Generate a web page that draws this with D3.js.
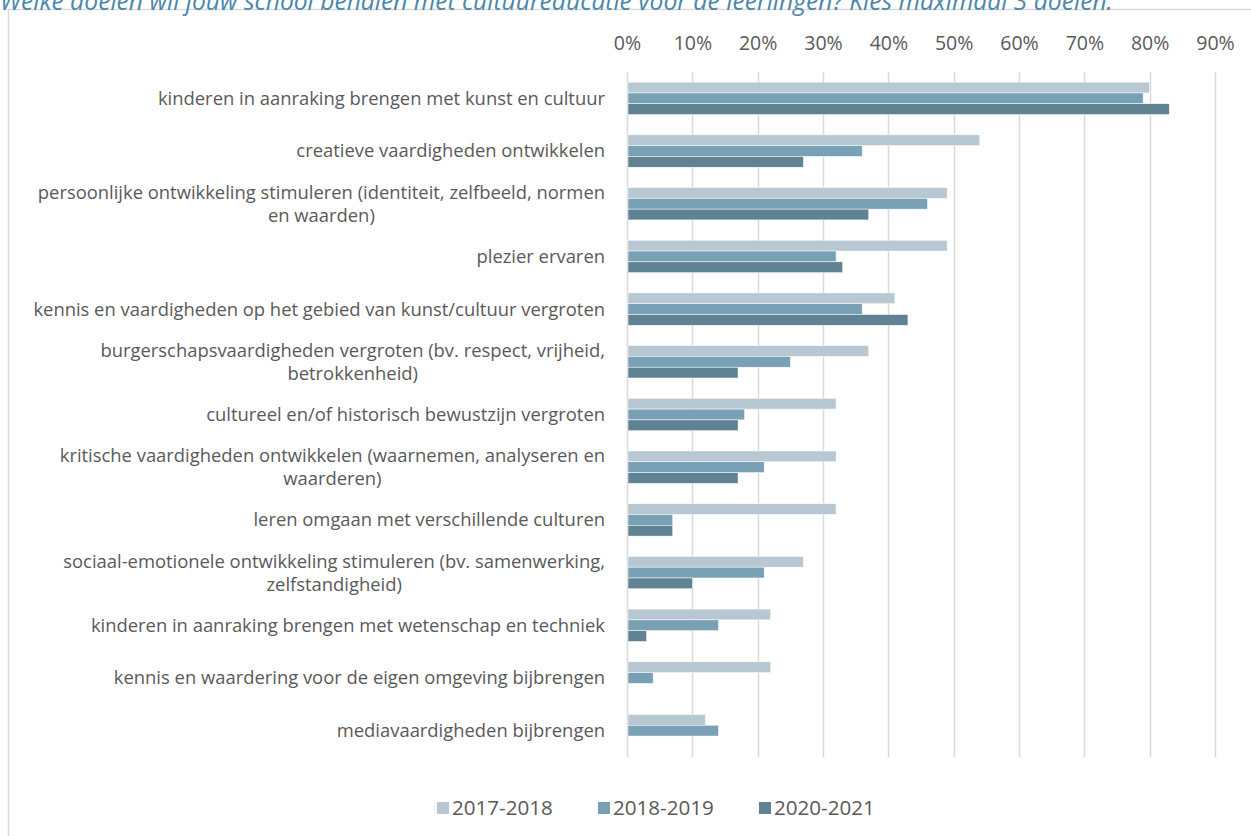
<!DOCTYPE html>
<html><head><meta charset="utf-8">
<script src="https://cdn.jsdelivr.net/npm/d3@7"></script>
<style>
html,body{margin:0;padding:0;background:#fff;overflow:hidden}
svg{display:block;font-family:"Open Sans",sans-serif}
</style></head>
<body><svg id="c" width="1251" height="836"></svg>
<script>
const title = "Welke doelen wil jouw school behalen met cultuureducatie voor de leerlingen? Kies maximaal 3 doelen.";
const categories = [
  "kinderen in aanraking brengen met kunst en cultuur",
  "creatieve vaardigheden ontwikkelen",
  "persoonlijke ontwikkeling stimuleren (identiteit, zelfbeeld, normen\nen waarden)",
  "plezier ervaren",
  "kennis en vaardigheden op het gebied van kunst/cultuur vergroten",
  "burgerschapsvaardigheden vergroten (bv. respect, vrijheid,\nbetrokkenheid)",
  "cultureel en/of historisch bewustzijn vergroten",
  "kritische vaardigheden ontwikkelen (waarnemen, analyseren en\nwaarderen)",
  "leren omgaan met verschillende culturen",
  "sociaal-emotionele ontwikkeling stimuleren (bv. samenwerking,\nzelfstandigheid)",
  "kinderen in aanraking brengen met wetenschap en techniek",
  "kennis en waardering voor de eigen omgeving bijbrengen",
  "mediavaardigheden bijbrengen"
];
const seriesNames = ["2017-2018", "2018-2019", "2020-2021"];
const s2017 = [80, 54, 49, 49, 41, 37, 32, 32, 32, 27, 22, 22, 12];
const s2018 = [79, 36, 46, 32, 36, 25, 18, 21, 7, 21, 14, 4, 14];
const s2020 = [83, 27, 37, 33, 43, 17, 17, 17, 7, 10, 3, 0, 0];
const tickValues = [0, 10, 20, 30, 40, 50, 60, 70, 80, 90];
const colors = ["#b7c8d2", "#78a1b6", "#608394"];

const series = [s2017, s2018, s2020];
const svg = d3.select("#c");

// frame
svg.append("rect").attr("x", 8.5).attr("y", 9.5).attr("width", 1260).attr("height", 840)
  .attr("fill", "none").attr("stroke", "#d9d9d9").attr("stroke-width", 1.5);

// title (cut at top in the original)
svg.append("text").attr("x", 0).attr("y", 9.5).attr("font-style", "italic")
  .attr("font-size", 24.6).attr("fill", "#4b87ab").text(title);

const x = d3.scaleLinear().domain([0, 90]).range([627, 1215]);
const y = d3.scaleBand().domain(d3.range(categories.length)).range([72, 757]).paddingInner(0).paddingOuter(0);
const inner = d3.scaleBand().domain(d3.range(3)).range([0, 32.4]);
const offset = (y.bandwidth() - 32.4) / 2;

// gridlines
svg.append("g").selectAll("line").data(tickValues).join("line")
  .attr("x1", d => Math.round(x(d)) + 0.5).attr("x2", d => Math.round(x(d)) + 0.5)
  .attr("y1", 72).attr("y2", 757).attr("stroke", "#d9d9d9").attr("stroke-width", 1.5);

// top axis
const axis = d3.axisTop(x).tickValues(tickValues).tickFormat(d => d + "%").tickSize(0).tickPadding(0);
const ag = svg.append("g").attr("transform", "translate(0,50)").call(axis);
ag.select(".domain").remove();
ag.selectAll("text").attr("font-size", 19.5).attr("fill", "#595959").attr("font-family", "Open Sans");

// bars
series.forEach((s, si) => {
  svg.append("g").selectAll("rect").data(s).join("rect")
    .attr("x", x(0) + 1)
    .attr("y", (d, i) => y(i) + offset + inner(si))
    .attr("width", d => Math.max(0, x(d) - x(0) - 1))
    .attr("height", inner.bandwidth())
    .attr("fill", colors[si])
    .attr("stroke", "#fff").attr("stroke-width", 0.5);
});

// category labels
const lg = svg.append("g");
categories.forEach((c, i) => {
  const lines = c.split("\n");
  const cy = y(i) + y.bandwidth() / 2;
  const lh = 23;
  const t = lg.append("text").attr("font-size", 18.4).attr("fill", "#595959");
  const spans = lines.map((ln, k) => t.append("tspan").text(ln)
    .attr("y", cy + (k - (lines.length - 1) / 2) * lh).attr("dy", "0.35em"));
  const widths = spans.map(sp => sp.node().getComputedTextLength());
  const maxW = d3.max(widths);
  const right = 605;
  const center = right - maxW / 2;
  spans.forEach(sp => sp.attr("x", center).attr("text-anchor", "middle"));
});

// legend
const legendX = [437, 598, 759];
const leg = svg.append("g");
seriesNames.forEach((n, i) => {
  leg.append("rect").attr("x", legendX[i]).attr("y", 802).attr("width", 12).attr("height", 12).attr("fill", colors[i]);
  leg.append("text").attr("x", legendX[i] + 15).attr("y", 808).attr("dy", "0.35em")
    .attr("font-size", 20.6).attr("fill", "#595959").text(n);
});
</script></body></html>
